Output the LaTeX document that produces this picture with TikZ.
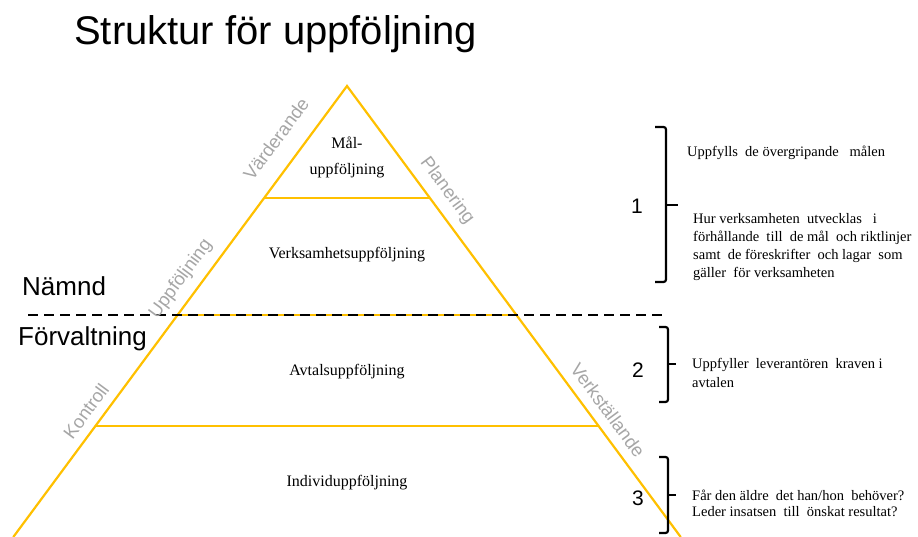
\documentclass[tikz,border=0pt]{standalone}
\usepackage{fontspec}
\setmainfont{Liberation Serif}
\newfontfamily\arialf{Liberation Sans}
\definecolor{gold}{HTML}{FFC000}
\definecolor{lbl}{HTML}{A6A6A6}
\begin{document}
\begin{tikzpicture}[x=1pt,y=1pt,
  pyr/.style={draw=gold,line width=2.2pt},
  divide/.style={draw=black,line width=2.2pt,dash pattern=on 10pt off 6pt},
  bracebox/.style={draw=black,line width=2.2pt,rounded corners=2.5pt},
  sidelbl/.style={text=lbl,font=\arialf\fontsize{18.5}{20}\selectfont,inner sep=0pt},
  lvl/.style={font=\fontsize{16}{18}\selectfont,inner sep=0pt,align=center},
  num/.style={font=\arialf\fontsize{21}{24}\selectfont,inner sep=0pt},
  head/.style={font=\arialf\fontsize{26}{28}\selectfont,inner sep=0pt,anchor=base west},
  note/.style={inner sep=0pt,anchor=base west,align=left}]
\useasboundingbox (0,0) rectangle (918,-537);
% pyramid
\coordinate (apex) at (347,-86);
\coordinate (bl) at (13.3,-537);
\coordinate (br) at (680.7,-537);
\draw[pyr,line join=miter] (bl) -- (apex) -- (br);
\draw[pyr] (264.1,-198) -- (429.9,-198);
\draw[pyr] (95.4,-426) -- (598.6,-426);
\draw[pyr] (177.5,-315) -- (516.5,-315);
\coordinate (dl) at (28,-315);
\coordinate (dr) at (665,-315);
\draw[divide] (dl) -- (dr);
% title
\node[font=\arialf\fontsize{40}{44}\selectfont,inner sep=0pt,anchor=base west] (title) at (74,-45) {Struktur för uppföljning};
\node[head] (namnd) at (22,-295) {Nämnd};
\node[head] (forv) at (18,-345) {Förvaltning};
% level labels
\node[lvl] (mal) at (347,-157) {Mål-\\[8pt]uppföljning};
\node[lvl] (verks) at (347,-255) {Verksamhetsuppföljning};
\node[lvl] (avtal) at (347,-372) {Avtalsuppföljning};
\node[lvl] (indiv) at (347,-483) {Individuppföljning};
% side labels
\node[sidelbl,rotate=53.5] (varde) at (276,-139) {Värderande};
\node[sidelbl,rotate=-53.5] (plan) at (447,-191) {Planering};
\node[sidelbl,rotate=53.5] (uppf) at (181,-279) {Uppföljning};
\node[sidelbl,rotate=53.5] (kontr) at (86,-411) {Kontroll};
\node[sidelbl,rotate=-53.5] (verkst) at (608,-410) {Verkställande};
% braces
\draw[bracebox] (655,-127) -- (666,-127) -- (666,-282) -- (655,-282);
\draw[line width=2.2pt] (666,-205) -- (678,-205);
\draw[bracebox] (659,-327) -- (668,-327) -- (668,-402) -- (659,-402);
\draw[line width=2.2pt] (668,-364) -- (676,-364);
\draw[bracebox] (659,-457) -- (668,-457) -- (668,-533) -- (659,-533);
\draw[line width=2.2pt] (668,-495) -- (676,-495);
% numbers
\node[num] (n1) at (637,-206) {1};
\node[num] (n2) at (638,-370) {2};
\node[num] (n3) at (638,-498) {3};
% notes (base anchor = last line's baseline)
\node[note,font=\fontsize{14.5}{18}\selectfont] (t1) at (687,-157) {Uppfylls\ \ de övergripande\ \ \ målen};
\node[note,font=\fontsize{14.5}{18.3}\selectfont] (t2) at (693,-278) {Hur verksamheten\ \ utvecklas\ \ \ i\\förhållande\ \ till\ \ de mål\ \ och riktlinjer\\samt\ \ de föreskrifter\ \ och lagar\ \ som\\gäller\ \ för verksamheten};
\node[note,font=\fontsize{14.5}{19}\selectfont] (t3) at (692,-387) {Uppfyller\ \ leverantören\ \ kraven i\\avtalen};
\node[note,font=\fontsize{14.5}{16}\selectfont] (t4) at (692,-516) {Får den äldre\ \ det han/hon\ \ behöver?\\Leder insatsen\ \ till\ \ önskat resultat?};
\end{tikzpicture}
\end{document}
